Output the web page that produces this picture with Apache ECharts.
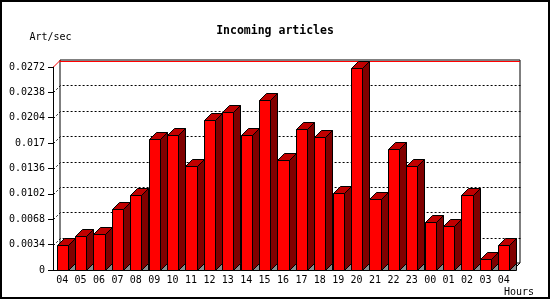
<!DOCTYPE html>
<html>
<head>
<meta charset="utf-8">
<script src="https://cdn.jsdelivr.net/npm/echarts@6/dist/echarts.min.js"></script>
<style>
html,body{margin:0;padding:0;background:#fff;}
#chart{width:550px;height:300px;}
</style>
</head>
<body>
<div id="chart"></div>
<script>
const categories = ['04','05','06','07','08','09','10','11','12','13','14','15','16','17','18','19','20','21','22','23','00','01','02','03','04'];
const articlesPerSec = [0.00331,0.00452,0.00478,0.00813,0.0100,0.01751,0.01805,0.01389,0.02006,0.02113,0.01805,0.02274,0.0147,0.01885,0.01778,0.01028,0.02703,0.00947,0.01617,0.01389,0.00639,0.00586,0.0100,0.00143,0.00331];
const yTickLabels = ['0','0.0034','0.0068','0.0102','0.0136','0.017','0.0204','0.0238','0.0272'];
const yMax = 0.0272, yStep = 0.0034;

const FONT = '"DejaVu Sans Mono", "Liberation Mono", monospace';
const DEPTH = 7;

function px(v){ return Math.round(v) + 0.5; }

function renderBar(params, api) {
  const i = api.value(0), v = api.value(1);
  const top = api.coord([i, v]);
  const base = api.coord([i, 0]);
  const band = api.size([1, 0])[0];
  const w = band * 0.6;
  const d = DEPTH;
  const x0 = px(top[0] - w / 2), x1 = px(top[0] + w / 2);
  const yt = px(top[1]), yb = px(base[1]);
  const st = {stroke: '#000', lineWidth: 1};
  return {
    type: 'group',
    children: [
      {type: 'polygon', shape: {points: [[x1, yb], [x1 + d, yb - d], [x1 + d, yb]]}, style: Object.assign({fill: '#8c8c8c'}, st)},
      {type: 'polygon', shape: {points: [[x1, yt], [x1 + d, yt - d], [x1 + d, yb - d], [x1, yb]]}, style: Object.assign({fill: '#800000'}, st)},
      {type: 'polygon', shape: {points: [[x0, yt], [x0 + d, yt - d], [x1 + d, yt - d], [x1, yt]]}, style: Object.assign({fill: '#c00000'}, st)},
      {type: 'rect', shape: {x: x0, y: yt, width: x1 - x0, height: yb - yt}, style: Object.assign({fill: '#ff0000'}, st)}
    ]
  };
}

function renderGridLine(params, api) {
  const v = api.value(0);
  const cs = params.coordSys;
  const y = px(api.coord([0, v])[1]);
  const xl = Math.round(cs.x) + 0.5;
  const xr = Math.round(cs.x + cs.width) + 0.5;
  const d = DEPTH;
  return {
    type: 'polyline',
    shape: {points: [[xl, y], [xl + d, y - d], [xr + d, y - d]]},
    style: {stroke: '#000', lineWidth: 1, lineDash: [2, 2], fill: null},
    silent: true
  };
}

const gridValues = yTickLabels.map(Number).filter(function (v) { return v > 0 && v < yMax; });

const chart = echarts.init(document.getElementById('chart'), null, {renderer: 'canvas'});
chart.setOption({
  animation: false,
  backgroundColor: '#fff',
  title: {
    text: 'Incoming articles',
    left: 'center',
    top: 20,
    textStyle: {fontFamily: FONT, fontSize: 11.5, fontWeight: 'bold', color: '#000'}
  },
  grid: [
    {left: 53, top: 67, width: 460, height: 203, containLabel: false},
    {left: 60, top: 60, width: 460, height: 203, show: true, borderColor: '#000', borderWidth: 1, backgroundColor: 'transparent'}
  ],
  xAxis: [
    {
      type: 'category', gridIndex: 0, data: categories, boundaryGap: true,
      axisLine: {lineStyle: {color: '#000', width: 1}},
      axisTick: {length: 4, lineStyle: {color: '#000'}},
      axisLabel: {color: '#000', fontFamily: FONT, fontSize: 10, margin: 5, interval: 0},
      name: 'Hours', nameLocation: 'end', nameGap: 6,
      nameTextStyle: {color: '#000', fontFamily: FONT, fontSize: 10, align: 'center', verticalAlign: 'top', padding: [17, 0, 0, 0]}
    },
    {type: 'category', gridIndex: 1, data: categories, show: false}
  ],
  yAxis: [
    {
      type: 'value', gridIndex: 0, min: 0, max: yMax, interval: yStep,
      axisLine: {show: true, lineStyle: {color: '#000', width: 1}},
      axisTick: {show: true, length: 5, lineStyle: {color: '#000'}},
      splitLine: {show: false},
      axisLabel: {color: '#000', fontFamily: FONT, fontSize: 10, margin: 8,
        formatter: function (val, idx) { return yTickLabels[idx]; }},
      name: 'Art/sec', nameLocation: 'end', nameGap: 30,
      nameTextStyle: {color: '#000', fontFamily: FONT, fontSize: 10, align: 'center', verticalAlign: 'middle', padding: [0, 5, 0, 0]}
    },
    {
      type: 'value', gridIndex: 1, min: 0, max: yMax, interval: yStep,
      axisLine: {show: false}, axisTick: {show: false}, axisLabel: {show: false},
      splitLine: {show: false}
    }
  ],
  graphic: [
    {type: 'rect', shape: {x: 1, y: 1, width: 548, height: 297}, style: {fill: null, stroke: '#000', lineWidth: 2}, z: 100},
    {type: 'line', shape: {x1: 60, y1: 61.5, x2: 520, y2: 61.5}, style: {stroke: '#ff0000', lineWidth: 1}, z: 1},
    {type: 'line', shape: {x1: 53.5, y1: 67, x2: 60.5, y2: 60}, style: {stroke: '#ff0000', lineWidth: 1}, z: 1},
    {type: 'line', shape: {x1: 513, y1: 270, x2: 520, y2: 263}, style: {stroke: '#000', lineWidth: 1}, z: 1}
  ],
  series: [
    {
      type: 'custom',
      xAxisIndex: 0, yAxisIndex: 0,
      renderItem: renderGridLine,
      encode: {y: 0},
      data: gridValues.map(function (v) { return [v]; }),
      z: 1
    },
    {
      type: 'custom',
      xAxisIndex: 0, yAxisIndex: 0,
      renderItem: renderBar,
      data: articlesPerSec.map(function (v, i) { return [i, v]; }),
      z: 5
    }
  ]
});
</script>
</body>
</html>
